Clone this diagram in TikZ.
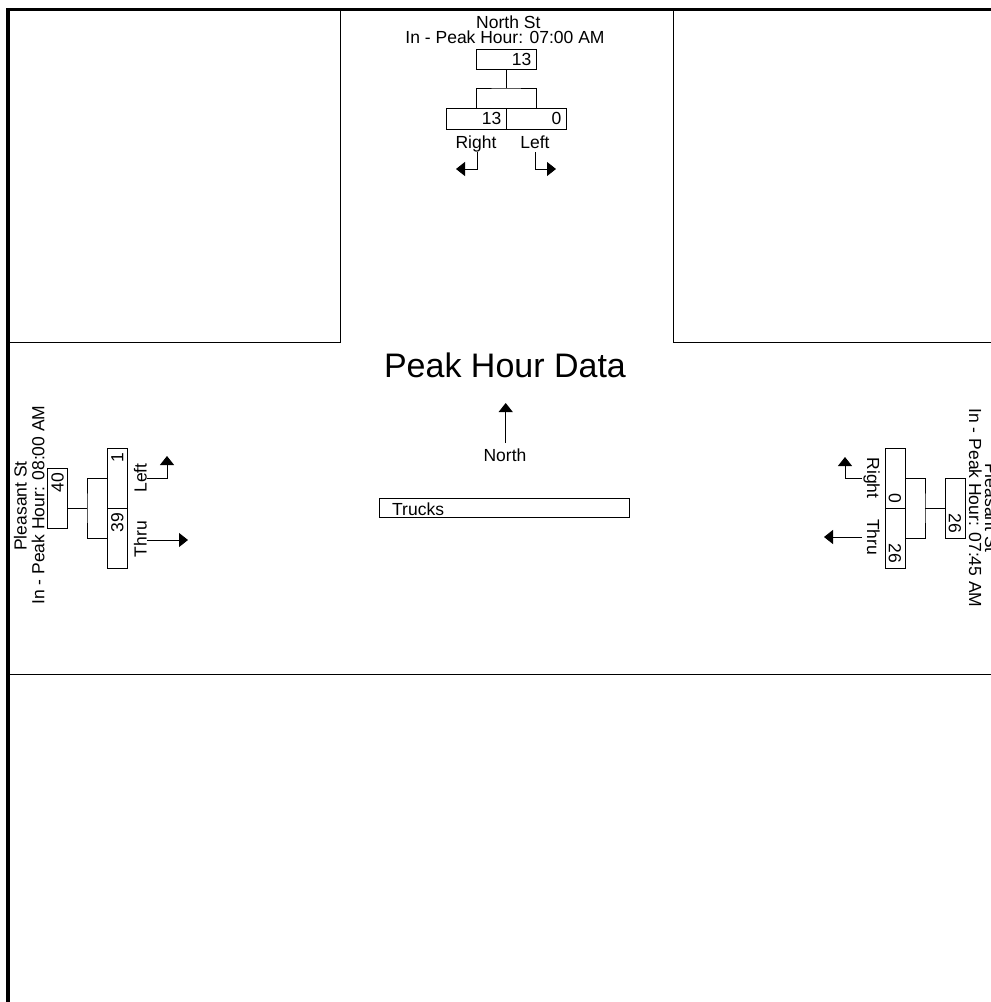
\documentclass[tikz,border=0pt]{standalone}
\usepackage{fontspec}
\setmainfont{Liberation Sans}
\usetikzlibrary{arrows.meta}
\begin{document}
\begin{tikzpicture}[x=1pt,y=-1pt,
  every node/.style={font=\fontsize{17.5}{15}\selectfont, inner sep=0pt},
  ln/.style={line width=1pt},
  frame/.style={line width=3.5pt},
  bx/.style={draw, line width=1pt, inner sep=0pt},
  hbox/.style={bx, minimum width=60pt, minimum height=20pt},
  vbox/.style={bx, minimum width=20pt, minimum height=60pt},
  arr/.style={line width=1pt, -{Triangle[length=9pt,width=14pt]}},
  titlefont/.style={font=\fontsize{34}{40}\selectfont}]
\useasboundingbox (0,0) rectangle (991,1002);
\clip (0,0) rectangle (991,1002);
% frame and street edges
\draw[frame] (8,1010) -- (8,9.5) -- (1000,9.5);
\draw[ln] (8,342) -- (340,342) -- (340,9.5);
\draw[ln] (673,9.5) -- (673,342) -- (995,342);
\draw[ln] (8,674) -- (995,674);
% title
\node[titlefont, anchor=base] (title) at (505,377) {Peak Hour Data};
\node[anchor=base] (northl) at (505,461) {North};
\coordinate (na0) at (505.7,443);
\coordinate (na1) at (505.7,403);
\draw[arr] (na0) -- (na1);
\node[bx, minimum width=250pt, minimum height=19pt] (tb) at (504,507.5) {};
\node[anchor=base west] (tt) at (392,515.5) {Trucks};
% ---------------- North
\node[anchor=base] (nst) at (508.3,28) {North St};
\node[anchor=base] (nph) at (505,43) {In - Peak Hour: 07:00 AM};
\node[hbox] (nt) at (506,59) {};
\node[anchor=east] (ntv) at (531.5,59) {13};
\node[hbox, minimum height=21pt] (nr) at (476,118.5) {};
\node[hbox, minimum height=21pt] (nl) at (536,118.5) {};
\node[anchor=east] (nrv) at (501.5,118.5) {13};
\node[anchor=east] (nlv) at (561.5,118.5) {0};
\coordinate (nj) at (506,88);
\draw[ln] (nt.south) -- (nj);
\draw[ln] (nr.north) |- (nj) -| (nl.north);
\node[anchor=base] (nrl) at (476,148) {Right};
\node[anchor=base] (nll) at (535,148) {Left};
\coordinate (nra0) at (477,152);
\coordinate (nra1) at (456,169);
\draw[arr] (nra0) |- (nra1);
\coordinate (nla0) at (535,152);
\coordinate (nla1) at (556,169);
\draw[arr] (nla0) |- (nla1);
% ---------------- West
\node[anchor=base, rotate=90] (wst) at (26.7,506) {Pleasant St};
\node[anchor=base, rotate=90] (wph) at (44.3,505) {In - Peak Hour: 08:00 AM};
\node[vbox] (ws) at (57.5,498) {};
\node[anchor=east, rotate=90] (wsv) at (57.5,472.5) {40};
\node[vbox] (wu) at (117.3,478) {};
\node[vbox] (wd) at (117.3,538) {};
\node[anchor=east, rotate=90] (wuv) at (117.3,452.5) {1};
\node[anchor=east, rotate=90] (wdv) at (117.3,512.5) {39};
\coordinate (wj) at (87,508);
\draw[ln] (ws.east |- wj) -- (wj);
\draw[ln] (wu.west) -| (wj) |- (wd.west);
\node[anchor=base, rotate=90] (wll) at (146.5,478) {Left};
\node[anchor=base, rotate=90] (wtl) at (146.5,539) {Thru};
\coordinate (wla0) at (147,478);
\coordinate (wla1) at (167,456);
\draw[arr] (wla0) -| (wla1);
\coordinate (wta0) at (147,540);
\coordinate (wta1) at (188,540);
\draw[arr] (wta0) -- (wta1);
% ---------------- East
\node[anchor=base, rotate=-90] (est) at (985,508) {Pleasant St};
\node[anchor=base, rotate=-90] (eph) at (969,508) {In - Peak Hour: 07:45 AM};
\node[vbox] (es) at (955,508) {};
\node[anchor=east, rotate=-90] (esv) at (955,533.5) {26};
\node[vbox] (eu) at (895,478) {};
\node[vbox] (ed) at (895,538) {};
\node[anchor=east, rotate=-90] (euv) at (895,503.5) {0};
\node[anchor=east, rotate=-90] (edv) at (895,563.5) {26};
\coordinate (ej) at (925,508);
\draw[ln] (es.west) -- (ej);
\draw[ln] (eu.east) -| (ej) |- (ed.east);
\node[anchor=base, rotate=-90] (erl) at (867,478) {Right};
\node[anchor=base, rotate=-90] (etl) at (867,537) {Thru};
\coordinate (era0) at (862,478);
\coordinate (era1) at (845,457);
\draw[arr] (era0) -| (era1);
\coordinate (eta0) at (862,537);
\coordinate (eta1) at (824,537);
\draw[arr] (eta0) -- (eta1);
\end{tikzpicture}
\end{document}
